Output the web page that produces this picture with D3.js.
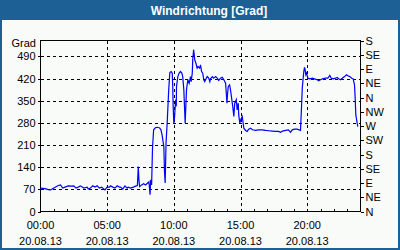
<!DOCTYPE html>
<html>
<head>
<meta charset="utf-8">
<script src="https://cdn.jsdelivr.net/npm/d3@7"></script>
<style>
  html, body { margin: 0; padding: 0; background: #f8fbf8; }
  svg { display: block; }
  text { font-family: "Liberation Sans", Arial, sans-serif; font-size: 11px; fill: #000; }
  .title { font-weight: bold; font-size: 12px; fill: #fff; }
  .grid line { stroke: #000; stroke-dasharray: 3,3; shape-rendering: crispEdges; }
  .axis path, .axis line { stroke: #000; shape-rendering: crispEdges; }
  .axis .domain { display: none; }
</style>
</head>
<body>
<script>
'use strict';

// minutes since 00:00 on 20.08.13
const minutes = [
  0, 20, 35, 45, 60, 80, 90, 100, 110, 125, 140, 150, 160, 170, 180, 195, 210, 215, 225, 235,
  245, 255, 265, 275, 290, 300, 310, 315, 325, 335, 345, 355, 360, 370, 380, 390, 395, 405, 418, 428,
  436, 440, 443, 446, 455, 464, 473, 482, 488, 493, 496, 500, 504, 509, 518, 527, 536, 542, 547, 555,
  558, 561, 565, 570, 577, 582, 588, 593, 595, 597, 600, 603, 608, 611, 612, 618, 624, 630, 636, 640,
  645, 648, 651, 654, 657, 663, 669, 675, 678, 683, 685, 689, 692, 694, 699, 705, 709, 716, 720, 725,
  730, 735, 739, 746, 750, 757, 762, 765, 773, 779, 788, 795, 802, 810, 818, 825, 833, 836, 839, 842,
  845, 851, 855, 860, 865, 870, 874, 881, 885, 890, 892, 897, 901, 908, 915, 923, 930, 937, 945, 954,
  968, 981, 998, 1013, 1027, 1043, 1058, 1071, 1080, 1089, 1103, 1116, 1125, 1133, 1143, 1155, 1170, 1175, 1178, 1182,
  1185, 1188, 1191, 1194, 1197, 1203, 1212, 1223, 1233, 1245, 1252, 1260, 1269, 1283, 1293, 1302, 1308, 1317, 1328, 1335,
  1342, 1350, 1358, 1368, 1377, 1385, 1392, 1400, 1407, 1413, 1416, 1419, 1425, 1428
];

// wind direction in degrees (0..540 scale)
const degrees = [
  74, 72, 69, 68, 74, 82, 84, 74, 77, 81, 80, 81, 74, 77, 81, 74, 77, 71, 74, 81,
  77, 81, 74, 77, 68, 77, 77, 81, 77, 74, 81, 77, 77, 71, 81, 74, 77, 74, 77, 80,
  82, 142, 100, 79, 84, 88, 84, 90, 94, 53, 100, 84, 200, 258, 265, 266, 264, 258, 242, 205,
  126, 90, 217, 279, 384, 439, 442, 437, 395, 332, 279, 295, 353, 332, 395, 426, 437, 442, 437, 426,
  384, 332, 279, 332, 384, 416, 405, 426, 410, 437, 479, 511, 495, 479, 469, 453, 458, 453, 463, 442,
  437, 416, 410, 421, 426, 421, 410, 419, 426, 421, 426, 421, 414, 421, 424, 416, 405, 374, 342, 374,
  395, 400, 384, 358, 332, 300, 342, 353, 321, 342, 305, 279, 290, 300, 263, 256, 253, 260, 263, 258,
  256, 258, 258, 256, 255, 254, 253, 253, 250, 254, 256, 258, 250, 258, 260, 260, 256, 337, 390, 421,
  442, 455, 448, 432, 437, 421, 419, 421, 419, 416, 413, 416, 419, 421, 421, 430, 421, 419, 421, 423,
  419, 416, 421, 426, 432, 428, 426, 421, 419, 400, 358, 305, 279, 268
];

const degreeTicks = [0, 70, 140, 210, 280, 350, 420, 490];
const compassLabels = ['N', 'NE', 'E', 'SE', 'S', 'SW', 'W', 'NW', 'N', 'NE', 'E', 'SE', 'S'];
const timeTicks = [0, 300, 600, 900, 1200];
const timeLabels = ['00:00', '05:00', '10:00', '15:00', '20:00'];
const dateLabel = '20.08.13';
const chartTitle = 'Windrichtung [Grad]';

const W = 400, H = 250;
const pLeft = 40.5, pRight = 360.5, pTop = 40.5, pBottom = 211.5;

const svg = d3.select('body').append('svg')
  .attr('width', W).attr('height', H);

// frame + title bar
svg.append('rect')
  .attr('x', 0).attr('y', 0).attr('width', W).attr('height', H)
  .attr('fill', '#1c6095');
svg.append('rect')
  .attr('x', 2).attr('y', 20).attr('width', W - 4).attr('height', H - 22)
  .attr('fill', '#f8fbf8');
svg.append('text')
  .attr('class', 'title')
  .attr('x', 209).attr('y', 14.5)
  .attr('text-anchor', 'middle')
  .text(chartTitle);

const x = d3.scaleLinear().domain([0, 1440]).range([pLeft, pRight]);
const y = d3.scaleLinear().domain([0, 540]).range([pBottom, pTop]);
const yRight = d3.scaleLinear().domain([0, 540]).range([pBottom, pTop]);

// grid
const grid = svg.append('g').attr('class', 'grid');
grid.selectAll('line.h').data(degreeTicks.filter(d => d > 0))
  .join('line').attr('class', 'h')
  .attr('x1', pLeft).attr('x2', pRight)
  .attr('y1', d => Math.round(y(d)) + 0.5).attr('y2', d => Math.round(y(d)) + 0.5);
grid.selectAll('line.v').data(timeTicks.filter(d => d > 0))
  .join('line').attr('class', 'v')
  .attr('x1', d => Math.round(x(d)) + 0.5).attr('x2', d => Math.round(x(d)) + 0.5)
  .attr('y1', pTop).attr('y2', pBottom);

// plot box
svg.append('rect')
  .attr('x', pLeft).attr('y', pTop)
  .attr('width', pRight - pLeft).attr('height', pBottom - pTop)
  .attr('fill', 'none').attr('stroke', '#000')
  .attr('shape-rendering', 'crispEdges');

// left axis
const yAxis = d3.axisLeft(y).tickValues(degreeTicks).tickSize(3).tickPadding(2)
  .tickFormat(d3.format('d'));
svg.append('g').attr('class', 'axis')
  .attr('transform', `translate(${pLeft},0)`)
  .call(yAxis);
svg.append('text')
  .attr('x', 36).attr('y', 47)
  .attr('text-anchor', 'end')
  .text('Grad');

// right axis (compass)
const rAxis = d3.axisRight(yRight)
  .tickValues(compassLabels.map((d, i) => i * 45))
  .tickSize(3).tickPadding(2)
  .tickFormat((d, i) => compassLabels[i]);
svg.append('g').attr('class', 'axis')
  .attr('transform', `translate(${pRight},0)`)
  .call(rAxis);

// bottom hourly minor ticks (inside)
const hours = d3.range(60, 1440, 60).filter(m => !timeTicks.includes(m));
svg.append('g').attr('class', 'axis')
  .attr('transform', `translate(0,${pBottom})`)
  .call(d3.axisTop(x).tickValues(hours).tickSize(3).tickFormat(''));

// bottom labels
const xLab = svg.append('g');
xLab.selectAll('text.t').data(timeTicks).join('text').attr('class', 't')
  .attr('x', d => x(d)).attr('y', 229)
  .attr('text-anchor', 'middle')
  .text((d, i) => timeLabels[i]);
xLab.selectAll('text.d').data(timeTicks).join('text').attr('class', 'd')
  .attr('x', d => x(d)).attr('y', 245)
  .attr('text-anchor', 'middle')
  .text(dateLabel);

// series
const line = d3.line()
  .x((d, i) => x(minutes[i]))
  .y(d => y(d));
svg.append('path')
  .datum(degrees)
  .attr('fill', 'none')
  .attr('stroke', '#0000ff')
  .attr('stroke-width', 1.2)
  .attr('d', line);
</script>
</body>
</html>
